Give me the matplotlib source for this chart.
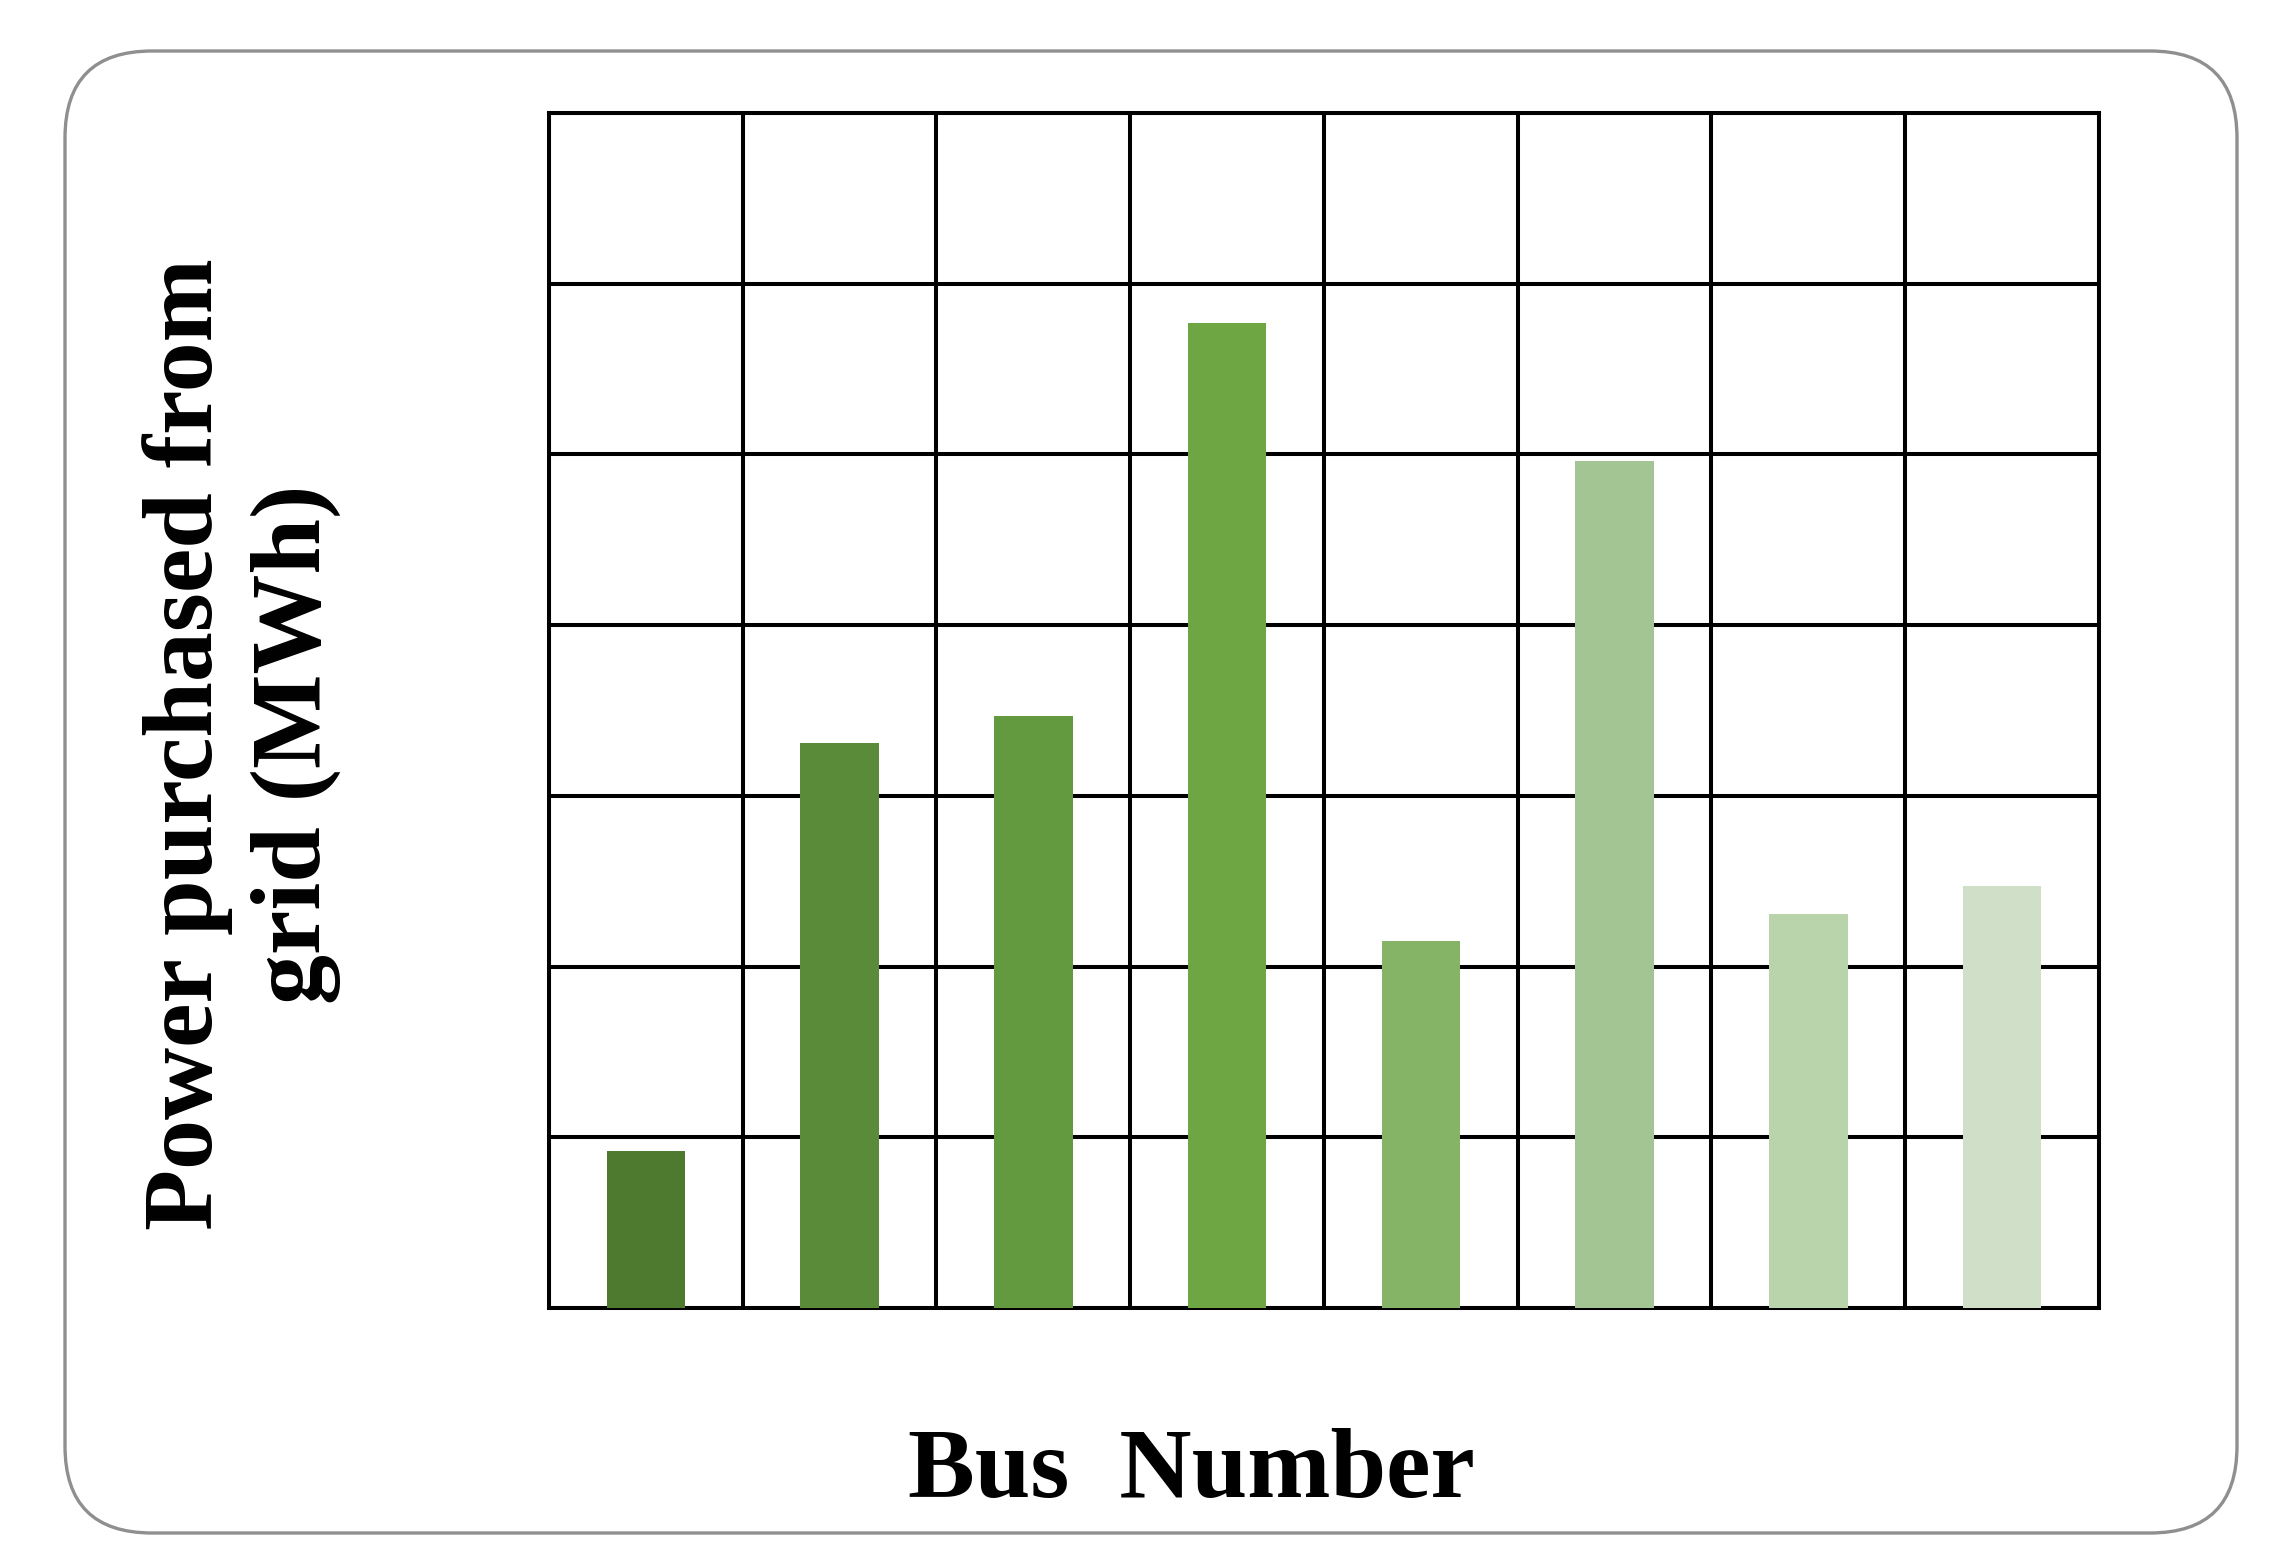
import numpy as np
import matplotlib
matplotlib.use("Agg")
import matplotlib.pyplot as plt
from matplotlib.patches import FancyBboxPatch

plt.rcParams['font.family'] = ['Liberation Serif', 'DejaVu Serif']

# data (grid units, no tick labels shown)
buses = [1, 2, 3, 4, 5, 6, 7, 8]
power = [0.92, 3.31, 3.47, 5.77, 2.15, 4.96, 2.31, 2.47]
colors = ['#4E7A2F', '#5A8B38', '#63993F', '#6DA642',
          '#85B467', '#A3C493', '#B9D4AB', '#CFDFC8']

fig = plt.figure(figsize=(22.78, 15.67), dpi=100)

# rounded frame around the whole chart
frame = FancyBboxPatch((0.65, 0.34), 21.72, 14.82,
                       boxstyle="round,pad=0,rounding_size=0.87",
                       transform=fig.dpi_scale_trans,
                       facecolor='white', edgecolor='#8f8f8f', linewidth=2.4,
                       zorder=-5)
fig.patches.append(frame)

ax = fig.add_axes([0.241, 0.1653, 0.6804, 0.7626])
ax.set_zorder(2)
ax.bar(buses, power, width=0.405, color=colors, zorder=3)

ax.set_xlim(0.5, 8.5)
ax.set_ylim(0, 7)
ax.set_xticks(np.arange(0.5, 8.6, 1))
ax.set_yticks(np.arange(0, 7.1, 1))
ax.grid(True, color='black', linewidth=2.9, zorder=0)
ax.set_axisbelow(True)
ax.tick_params(length=0, labelbottom=False, labelleft=False)
for s in ax.spines.values():
    s.set_linewidth(2.9)
    s.set_color('black')
ax.patch.set_alpha(0)

fig.text(0.106, 0.525, "Power purchased from\ngrid (MWh)", rotation=90,
         ha='center', va='center', fontsize=72, fontweight='bold',
         linespacing=1.25)
fig.text(0.523, 0.060, "Bus  Number", ha='center', va='center',
         fontsize=72, fontweight='bold')

plt.savefig("out.png", dpi=100)
